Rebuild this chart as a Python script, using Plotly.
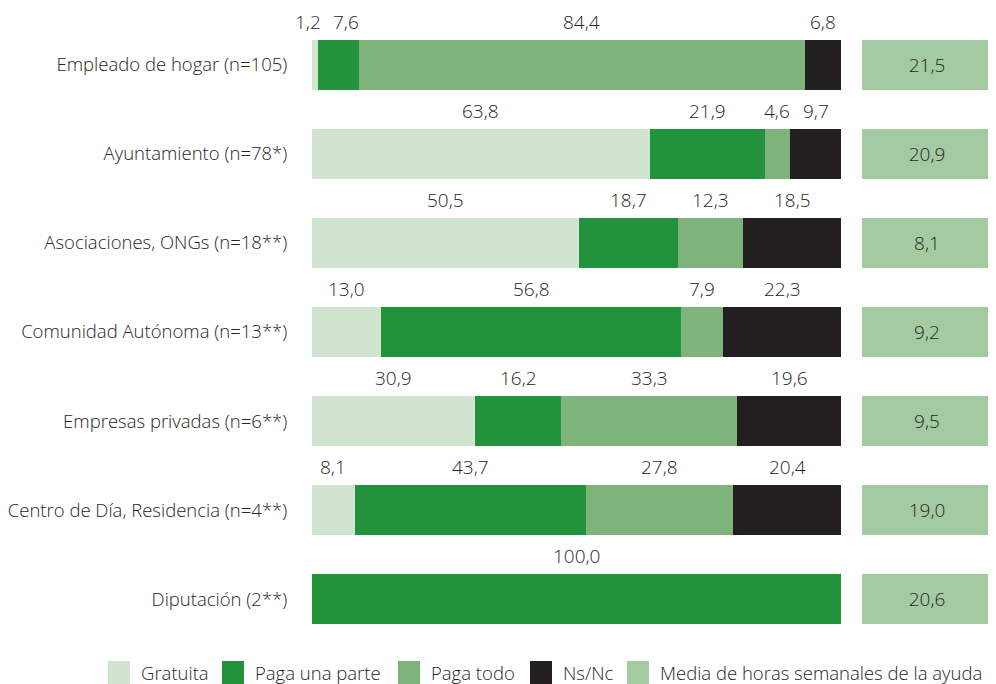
import plotly.graph_objects as go

categories = [
    "Empleado de hogar (n=105)",
    "Ayuntamiento (n=78*)",
    "Asociaciones, ONGs (n=18**)",
    "Comunidad Autónoma (n=13**)",
    "Empresas privadas (n=6**)",
    "Centro de Día, Residencia (n=4**)",
    "Diputación (2**)",
]
gratuita = [1.2, 63.8, 50.5, 13.0, 30.9, 8.1, 0.0]
paga_parte = [7.6, 21.9, 18.7, 56.8, 16.2, 43.7, 100.0]
paga_todo = [84.4, 4.6, 12.3, 7.9, 33.3, 27.8, 0.0]
nsnc = [6.8, 9.7, 18.5, 22.3, 19.6, 20.4, 0.0]
media_horas = [21.5, 20.9, 8.1, 9.2, 9.5, 19.0, 20.6]

series_names = ["Gratuita", "Paga una parte", "Paga todo", "Ns/Nc"]
series_vals = [gratuita, paga_parte, paga_todo, nsnc]
series_colors = ["#d0e4cf", "#23923d", "#7eb47b", "#231f20"]
media_name = "Media de horas semanales de la ayuda"
media_color = "#a4caa1"

FONT = "Open Sans"
TXT = "#262626"
WEIGHT = 300
FS = 19

def fmt(v):
    return f"{v:.1f}".replace(".", ",")

# page offset (body margin of html page)
OFF = 8
W, H = 996 - OFF, 684 - OFF
PL, PR_END, PT, PB_END = 312, 992, 20, 644
L = PL - OFF
R = W - (PR_END - OFF)
T = PT - OFF
B = H - (PB_END - OFF)
pw, ph = W - L - R, H - T - B
BAR_PX = 529  # pixel width of the 0-100 axis
px_per_unit = BAR_PX / 100.0

fig = go.Figure()
for name, vals, col in zip(series_names, series_vals, series_colors):
    fig.add_trace(go.Bar(
        y=categories, x=vals, name=name, orientation="h",
        marker=dict(color=col, line=dict(width=0)),
        width=0.56, showlegend=False,
        xaxis="x", yaxis="y",
    ))

fig.add_trace(go.Bar(
    y=categories, x=[1] * len(categories), name=media_name, orientation="h",
    marker=dict(color=media_color, line=dict(width=0)),
    width=0.56, showlegend=False,
    text=[fmt(v) for v in media_horas], textposition="inside",
    insidetextanchor="middle",
    textfont=dict(family=FONT, size=FS, color=TXT, weight=WEIGHT),
    customdata=media_horas, hovertemplate="%{y}: %{customdata}<extra></extra>",
    xaxis="x2", yaxis="y",
))

annotations = []
for i, cat in enumerate(categories):
    cum = 0.0
    labels = []
    for vals in series_vals:
        v = vals[i]
        if v > 0:
            labels.append([cum + v / 2, fmt(v), 0.0])
        cum += v
    # simple de-overlap of neighbouring labels, as pixel shifts
    for k in range(1, len(labels)):
        a, b = labels[k - 1], labels[k]
        wa, wb = len(a[1]) * 9.5, len(b[1]) * 9.5
        need = (wa + wb) / 2 + 10
        dist = (b[0] - a[0]) * px_per_unit + b[2] - a[2]
        if dist < need:
            s = (need - dist) / 2
            a[2] -= s
            b[2] += s
    for xc, txt, xs in labels:
        annotations.append(dict(
            x=xc, y=cat, xref="x", yref="y",
            text=txt, showarrow=False, yshift=43, xshift=xs,
            font=dict(family=FONT, size=FS, color=TXT, weight=WEIGHT),
        ))

# manual legend (page pixel positions)
legend_items = list(zip(series_names, series_colors)) + [(media_name, media_color)]
leg_x = [108, 222, 398, 530, 627]

def px_to_paper_x(px):
    return (px - OFF - L) / pw

def py_to_paper_y(py):
    return (H - B - (py - OFF)) / ph

shapes = []
for (name, col), px in zip(legend_items, leg_x):
    shapes.append(dict(type="rect", xref="paper", yref="paper",
                       x0=px_to_paper_x(px), x1=px_to_paper_x(px + 22),
                       y0=py_to_paper_y(684), y1=py_to_paper_y(661),
                       fillcolor=col, line=dict(width=0)))
    annotations.append(dict(
        x=px_to_paper_x(px + 31), y=py_to_paper_y(672), xref="paper", yref="paper",
        text=name, showarrow=False, xanchor="left", yanchor="middle",
        font=dict(family=FONT, size=18.5, color=TXT, weight=WEIGHT),
    ))

fig.update_layout(
    barmode="stack",
    width=W, height=H,
    margin=dict(l=L, r=R, t=T, b=B, autoexpand=False),
    paper_bgcolor="white", plot_bgcolor="white",
    font=dict(family=FONT, size=FS, color=TXT),
    bargap=0,
    xaxis=dict(domain=[0, BAR_PX / pw], range=[0, 100], visible=False,
               fixedrange=True, automargin=False),
    xaxis2=dict(domain=[550 / pw, 1], range=[0, 1], visible=False,
                fixedrange=True, automargin=False),
    yaxis=dict(categoryorder="array", categoryarray=categories,
               range=[6.5, -0.5], showgrid=False, zeroline=False, showline=False,
               ticks="outside", ticklen=20, tickcolor="rgba(0,0,0,0)",
               tickfont=dict(family=FONT, size=18.5, color=TXT, weight=WEIGHT),
               fixedrange=True, automargin=False),
    annotations=annotations,
    shapes=shapes,
    showlegend=False,
)

fig.write_html("out.html")
